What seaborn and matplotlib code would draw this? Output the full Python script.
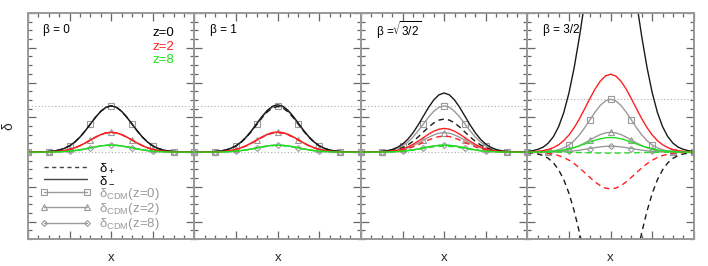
import numpy as np
import pandas as pd
import matplotlib
matplotlib.use('Agg')
import matplotlib.pyplot as plt
from matplotlib.ticker import MultipleLocator
from matplotlib.lines import Line2D
import seaborn as sns

# panel titles
BETA_LABELS = ['β = 0', 'β = 1', r'β =$\sqrt{3/2}$', 'β = 3/2']

# bump profile, x = 0, 0.25, ..., 4 (mirrored for x < 0)
PROFILE_HALF = [1.0, 0.969, 0.882, 0.755, 0.607, 0.458, 0.325, 0.216, 0.135,
                0.080, 0.044, 0.023, 0.011, 0.005, 0.002, 0.001, 0.0]
# wider bump used by the beta = 3/2 delta curves
PROFILE_WIDE_HALF = [1.0, 0.977, 0.910, 0.808, 0.685, 0.554, 0.427, 0.314, 0.220,
                     0.147, 0.094, 0.057, 0.033, 0.018, 0.010, 0.005, 0.002]

# peak heights per panel (beta = 0, 1, sqrt(3/2), 3/2)
delta_minus_z0 = [1.33, 1.36, 1.70, 7.75]
delta_minus_z2 = [0.57, 0.58, 0.68, 2.24]
delta_minus_z8 = [0.20, 0.20, 0.20, 0.42]
delta_plus_z0 = [1.33, 1.31, 0.95, -5.4]
delta_plus_z2 = [0.57, 0.56, 0.46, -1.06]
delta_plus_z8 = [0.20, 0.19, 0.17, -0.03]
cdm_z0 = [1.33, 1.33, 1.33, 1.52]
cdm_z2 = [0.57, 0.57, 0.56, 0.57]
cdm_z8 = [0.20, 0.20, 0.20, 0.17]

RED = '#ff2020'
GREEN = '#20e020'
GRAY = '#9a9a9a'
BLACK = '#1a1a1a'

sns.set_theme(style='ticks')
plt.rcParams['font.family'] = ['Liberation Sans', 'DejaVu Sans']
plt.rcParams['mathtext.default'] = 'regular'


def full(half):
    half = np.asarray(half)
    return np.concatenate([half[:0:-1], half])


x = np.linspace(-4, 4, 33)
prof = full(PROFILE_HALF)
prof_wide = full(PROFILE_WIDE_HALF)

fig, axes = plt.subplots(1, 4, figsize=(7.08, 2.66), dpi=100, sharey=True)
fig.subplots_adjust(left=0.0395, right=0.980, top=0.951, bottom=0.1015, wspace=0)

for i, ax in enumerate(axes):
    p = prof_wide if i == 3 else prof
    # reference levels
    ax.axhline(0, color='#aaaaaa', ls=(0, (1, 2)), lw=0.8)
    ax.axhline(cdm_z0[i], color='#aaaaaa', ls=(0, (1, 2)), lw=0.8)

    # CDM curves with markers
    for amp, mk in [(cdm_z0[i], 's'), (cdm_z2[i], '^'), (cdm_z8[i], 'D')]:
        sns.lineplot(x=x, y=amp * prof, ax=ax, color=GRAY, lw=1.0, marker=mk,
                     markevery=4, ms=4 if mk != 'D' else 3, mfc='none', mec=GRAY,
                     mew=0.8, errorbar=None, sort=False)

    # delta_+ (dashed) and delta_- (solid)
    for amp, col in [(delta_plus_z0[i], BLACK), (delta_plus_z2[i], RED), (delta_plus_z8[i], GREEN)]:
        sns.lineplot(x=x, y=amp * p, ax=ax, color=col, lw=1.0, ls=(0, (4, 3)),
                     errorbar=None, sort=False)
    for amp, col in [(delta_minus_z0[i], BLACK), (delta_minus_z2[i], RED), (delta_minus_z8[i], GREEN)]:
        sns.lineplot(x=x, y=amp * p, ax=ax, color=col, lw=1.0, errorbar=None, sort=False)

    ax.set_xlim(-4, 4)
    ax.set_ylim(-2.5, 4)
    ax.xaxis.set_major_locator(MultipleLocator(2))
    ax.xaxis.set_minor_locator(MultipleLocator(0.5))
    ax.yaxis.set_major_locator(MultipleLocator(1))
    ax.yaxis.set_minor_locator(MultipleLocator(0.25))
    ax.tick_params(which='both', direction='in', top=True, right=True, bottom=True, left=True,
                   labelbottom=False, labelleft=False, color='#666666', width=0.9)
    ax.tick_params(which='major', length=6)
    ax.tick_params(which='minor', length=3)
    for s in ax.spines.values():
        s.set_color('#999999')
        s.set_linewidth(1.4)
    ax.set_xlabel('x', fontsize=9.5, labelpad=9)
    ax.set_ylabel('')
    ax.text(0.093, 0.925, BETA_LABELS[i], transform=ax.transAxes, fontsize=8.5,
            ha='left', va='center', color='black')

fig.text(8 / 708, 1 - 126 / 266, 'δ', rotation=90, ha='center', va='center', fontsize=10)

ax0 = axes[0]
for lab, col, yy in [('z=0', 'black', 0.912), ('z=2', RED, 0.848), ('z=8', GREEN, 0.790)]:
    ax0.text(0.88, yy, lab, transform=ax0.transAxes, fontsize=9.5, ha='right',
             va='center', color=col)

handles = [
    Line2D([], [], color='#444444', lw=1.0, ls=(0, (3, 2.5))),
    Line2D([], [], color='#444444', lw=1.0),
    Line2D([], [], color=GRAY, lw=1.0, marker='s', ms=4, mfc='none', mec=GRAY, mew=0.8),
    Line2D([], [], color=GRAY, lw=1.0, marker='^', ms=4, mfc='none', mec=GRAY, mew=0.8),
    Line2D([], [], color=GRAY, lw=1.0, marker='D', ms=3, mfc='none', mec=GRAY, mew=0.8),
]
labels = ['δ$_+$', 'δ$_-$', 'δ$_{CDM}$(z=0)', 'δ$_{CDM}$(z=2)', 'δ$_{CDM}$(z=8)']
leg = ax0.legend(handles, labels, loc='lower left', bbox_to_anchor=(0.072, 0.03),
                 frameon=False, fontsize=9.5, handlelength=3.9, handletextpad=0.6,
                 labelspacing=-0.05, borderpad=0, borderaxespad=0, numpoints=2)
for t, c in zip(leg.get_texts(), ['black', 'black', GRAY, GRAY, GRAY]):
    t.set_color(c)

fig.savefig('out.png', dpi=100)
